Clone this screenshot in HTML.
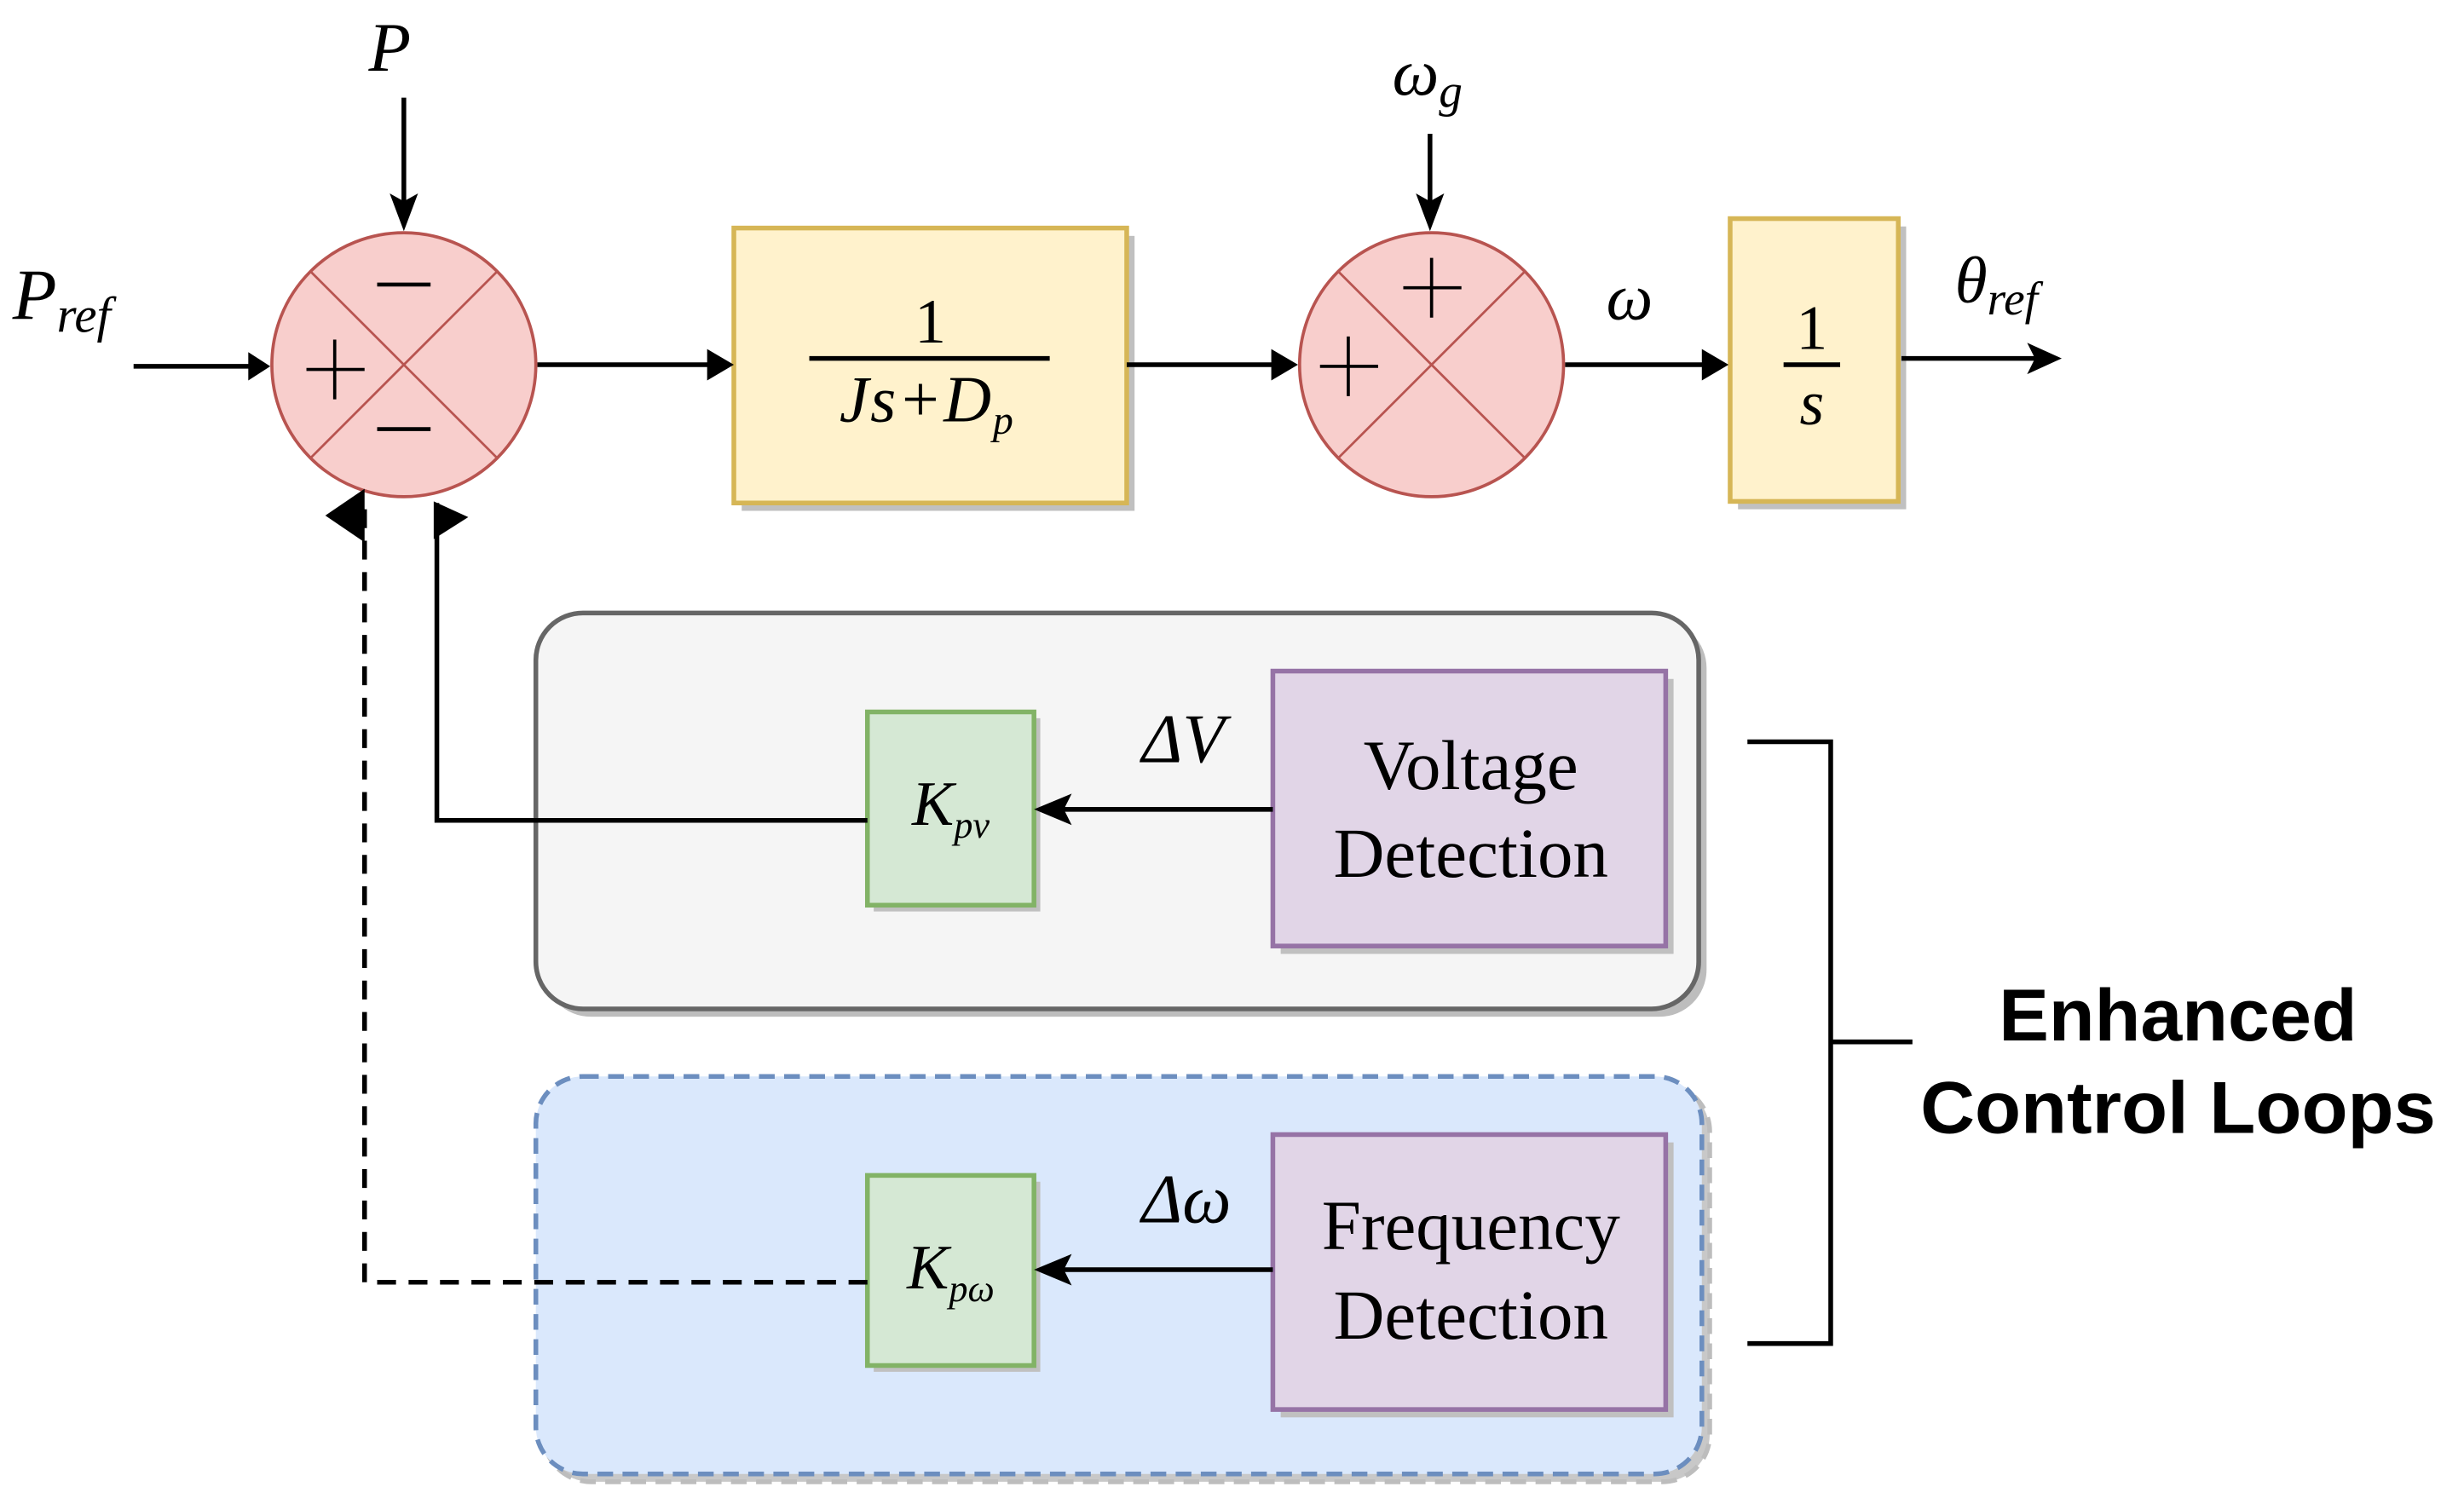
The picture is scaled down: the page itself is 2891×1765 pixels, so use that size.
<!DOCTYPE html>
<html><head><meta charset="utf-8"><style>
html,body{margin:0;padding:0;background:#fff;}
svg{display:block;}
.m{font-family:"Liberation Serif",serif;font-style:italic;fill:#000;}
.r{font-family:"Liberation Serif",serif;fill:#000;}
</style></head><body>
<svg width="2891" height="1765" viewBox="0 0 1568 957" xmlns="http://www.w3.org/2000/svg">
<!-- containers -->
<rect x="346" y="395" width="740" height="252" rx="30" fill="#bdbdbd"/>
<rect x="341" y="390" width="740" height="252" rx="30" fill="#f5f5f5" stroke="#666" stroke-width="3"/>
<rect x="346" y="690" width="742" height="253" rx="30" fill="#c8c8c8" stroke="#bdbdbd" stroke-width="3" stroke-dasharray="10 6"/>
<rect x="341" y="685" width="742" height="253" rx="30" fill="#dae8fc" stroke="#6c8ebf" stroke-width="3" stroke-dasharray="10 6"/>

<!-- sum1 -->
<circle cx="257" cy="232" r="84" fill="#f8cecc" stroke="#b85450" stroke-width="2"/>
<line x1="198" y1="173" x2="316" y2="291" stroke="#b85450" stroke-width="1.5"/>
<line x1="316" y1="173" x2="198" y2="291" stroke="#b85450" stroke-width="1.5"/>
<line x1="240" y1="181" x2="274" y2="181" stroke="#000" stroke-width="2.5"/>
<line x1="240" y1="273" x2="274" y2="273" stroke="#000" stroke-width="2.5"/>
<line x1="195" y1="235" x2="232" y2="235" stroke="#000" stroke-width="2"/>
<line x1="213" y1="216" x2="213" y2="254" stroke="#000" stroke-width="2"/>

<!-- sum2 -->
<circle cx="911" cy="232" r="84" fill="#f8cecc" stroke="#b85450" stroke-width="2"/>
<line x1="852" y1="173" x2="970" y2="291" stroke="#b85450" stroke-width="1.5"/>
<line x1="970" y1="173" x2="852" y2="291" stroke="#b85450" stroke-width="1.5"/>
<line x1="893" y1="183" x2="930" y2="183" stroke="#000" stroke-width="2"/>
<line x1="911" y1="164" x2="911" y2="202" stroke="#000" stroke-width="2"/>
<line x1="840" y1="233" x2="877" y2="233" stroke="#000" stroke-width="2"/>
<line x1="858" y1="214" x2="858" y2="252" stroke="#000" stroke-width="2"/>

<!-- block1 -->
<rect x="472" y="150" width="250" height="175" fill="#c0c0c0"/>
<rect x="467" y="145" width="250" height="175" fill="#fff2cc" stroke="#d6b656" stroke-width="3"/>
<text x="592" y="218" class="r" font-size="40" text-anchor="middle">1</text>
<line x1="515" y1="228" x2="668" y2="228" stroke="#000" stroke-width="3"/>
<text x="590" y="268" class="m" font-size="42" text-anchor="middle" letter-spacing="1">Js+D<tspan font-size="26" dy="8">p</tspan></text>

<!-- block2 -->
<rect x="1106" y="144" width="107" height="180" fill="#c0c0c0"/>
<rect x="1101" y="139" width="107" height="180" fill="#fff2cc" stroke="#d6b656" stroke-width="3"/>
<text x="1153" y="222" class="r" font-size="40" text-anchor="middle">1</text>
<line x1="1135" y1="232" x2="1171" y2="232" stroke="#000" stroke-width="3"/>
<text x="1153" y="270" class="m" font-size="40" text-anchor="middle">s</text>

<!-- K boxes -->
<rect x="556" y="457" width="106" height="123" fill="#c0c0c0"/>
<rect x="552" y="453" width="106" height="123" fill="#d5e8d4" stroke="#82b366" stroke-width="3"/>
<text x="605" y="525" class="m" font-size="40" text-anchor="middle">K<tspan font-size="24" dy="8">pv</tspan></text>
<rect x="556" y="752" width="106" height="121" fill="#c0c0c0"/>
<rect x="552" y="748" width="106" height="121" fill="#d5e8d4" stroke="#82b366" stroke-width="3"/>
<text x="605" y="820" class="m" font-size="40" text-anchor="middle">K<tspan font-size="24" dy="8">pω</tspan></text>

<!-- detection boxes -->
<rect x="815" y="432" width="250" height="175" fill="#c0c0c0"/>
<rect x="810" y="427" width="250" height="175" fill="#e1d5e7" stroke="#9673a6" stroke-width="3"/>
<text x="936" y="502" class="r" font-size="45" text-anchor="middle">Voltage</text>
<text x="936" y="558" class="r" font-size="45" text-anchor="middle">Detection</text>
<rect x="815" y="727" width="250" height="175" fill="#c0c0c0"/>
<rect x="810" y="722" width="250" height="175" fill="#e1d5e7" stroke="#9673a6" stroke-width="3"/>
<text x="936" y="795" class="r" font-size="45" text-anchor="middle">Frequency</text>
<text x="936" y="852" class="r" font-size="45" text-anchor="middle">Detection</text>

<!-- connectors -->
<g stroke="#000" stroke-width="3" fill="none">
<line x1="85" y1="233" x2="160" y2="233"/>
<line x1="257" y1="62" x2="257" y2="135"/>
<line x1="342" y1="232" x2="455" y2="232"/>
<line x1="717" y1="232" x2="815" y2="232"/>
<line x1="910" y1="85" x2="910" y2="135"/>
<line x1="996" y1="232" x2="1088" y2="232"/>
<line x1="1210" y1="228" x2="1298" y2="228"/>
<line x1="810" y1="515" x2="672" y2="515"/>
<line x1="810" y1="808" x2="672" y2="808"/>
<polyline points="552,522 278,522 278,320"/>
<polyline points="552,816 232,816 232,320" stroke-dasharray="12 8"/>
<polyline points="1112,472 1165,472 1165,855 1112,855"/>
<line x1="1165" y1="663" x2="1217" y2="663"/>
</g>
<g fill="#000">
<polygon points="172,233 158,224 158,242"/>
<polygon points="257,147 248,123 257,128 266,123"/>
<polygon points="467,232 450,222 450,242"/>
<polygon points="826,232 809,222 809,242"/>
<polygon points="910,147 901,123 910,128 919,123"/>
<polygon points="1100,232 1083,222 1083,242"/>
<polygon points="1312,228 1290,218 1295,228 1290,238"/>
<polygon points="658,515 682,505 677,515 682,525"/>
<polygon points="658,808 682,798 677,808 682,818"/>
<polygon points="232,311 207,328 232,345"/>
<polygon points="276,319 298,329 276,343"/>
</g>

<!-- labels -->
<text x="248" y="45" class="m" font-size="44" text-anchor="middle">P</text>
<text x="8" y="203" class="m" font-size="46">P<tspan font-size="32" dy="8">ref</tspan></text>
<text x="886" y="60" class="m" font-size="42">ω<tspan font-size="30" dy="8">g</tspan></text>
<text x="1037" y="203" class="m" font-size="42" text-anchor="middle">ω</text>
<text x="1244" y="192" class="m" font-size="42">θ<tspan font-size="30" dy="8">ref</tspan></text>
<text x="753" y="485" class="m" font-size="44" text-anchor="middle">ΔV</text>
<text x="755" y="778" class="m" font-size="44" text-anchor="middle">Δω</text>
<text x="1272" y="662" font-family="Liberation Sans, sans-serif" font-weight="bold" font-size="47" textLength="228" lengthAdjust="spacingAndGlyphs">Enhanced</text>
<text x="1222" y="721" font-family="Liberation Sans, sans-serif" font-weight="bold" font-size="47" textLength="328" lengthAdjust="spacingAndGlyphs">Control Loops</text>
</svg>
</body></html>
